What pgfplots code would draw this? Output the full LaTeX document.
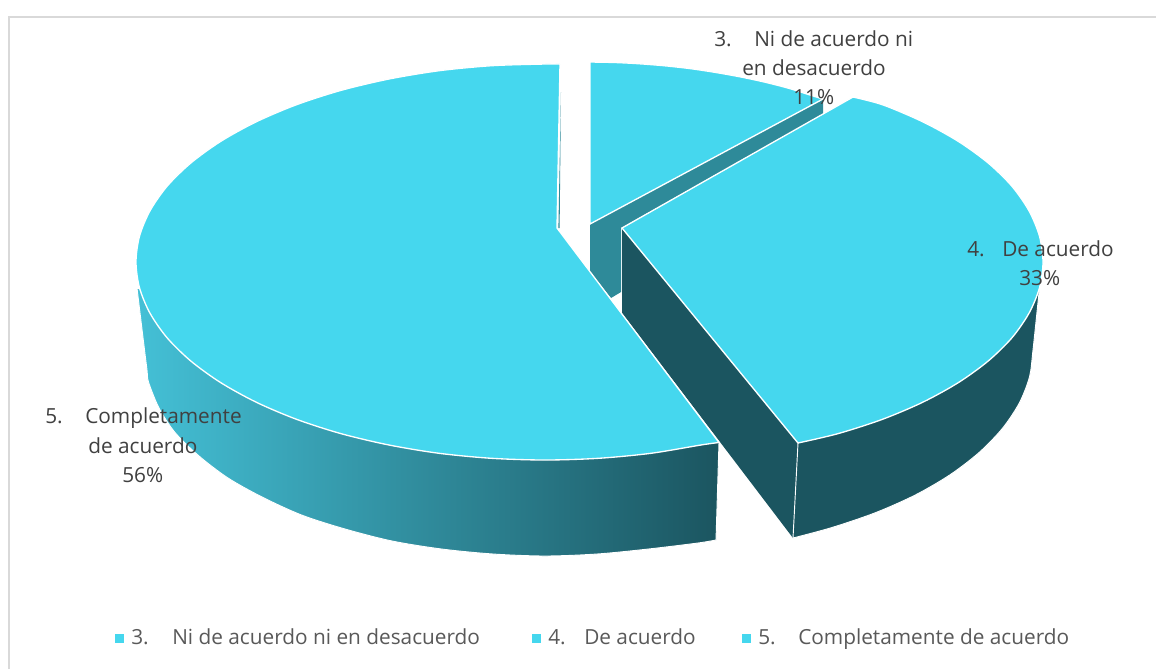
\documentclass[border=0pt]{standalone}
\usepackage{pgfplots}
\pgfplotsset{compat=1.18}
\usepackage{fontspec}
\setmainfont{Open Sans}
\definecolor{topc}{RGB}{69,215,238}
\definecolor{darkc}{RGB}{27,85,96}
\definecolor{midc}{RGB}{46,138,153}
\definecolor{leftc}{RGB}{68,192,214}
\definecolor{lbl}{RGB}{64,64,64}
\definecolor{leg}{RGB}{89,89,89}
\definecolor{frame}{RGB}{217,217,217}
\newcommand\fs{\fontsize{15.6}{18}\selectfont}
\newcommand\lab[3]{\node[anchor=base west,inner sep=0pt,text=lbl] at (axis cs:#1,#2) {\fs #3};}
\newcommand\lgd[3]{\node[anchor=base west,inner sep=0pt,text=leg] at (axis cs:#1,#2) {\fs #3};}
\begin{document}
\begin{tikzpicture}
\begin{axis}[
  scale only axis, width=867pt, height=501.75pt,
  xmin=0, xmax=1156, ymin=0, ymax=669, y dir=reverse,
  hide axis, clip=true]
% page
\addplot[draw=none, fill=white] coordinates {(0,0)(1156,0)(1156,669)(0,669)} --cycle;
% frame
\addplot[draw=frame, line width=1.5pt] coordinates {(9,669)(9,17)(1156,17)};
% band between slice 3 and slice 4
\addplot[draw=none, fill=midc] coordinates {(590,224)(590,272)(611,298)(621,292)(621,228)(823,114)(823,99)} --cycle;
% cut face of slice 4
\addplot[draw=none, fill=darkc] coordinates {(622,228)(622,313)(793,538)(798,443)} --cycle;
% outer side of slice 4 (upper edge hidden under the top face)
\addplot[smooth, draw=white, line width=0.7pt, fill=darkc] coordinates {
 (1039.5,287.8)(1033,350)(1029.5,376.8)(1019.3,403)(1002.4,428.4)(979.1,452.5)(950,474.8)(915.3,495)(875.7,512.6)(832,527.5)(793,538)} -- (axis cs:798,443) -- cycle;
% outer side of slice 5 (upper edge hidden under the top face)
\addplot[smooth, draw=white, line width=0.7pt, left color=leftc, right color=darkc] coordinates {
 (137,288)(143.3,340)(147,370)(148.5,382)(159,408)(175,432.5)(199,456)(228,478)(262,497)(301.5,515)(345,529)(392,541)(441.5,549)(493,554)(545,556)(597,554)(648.5,549)(698,543)(716,540)} -- (axis cs:719,442.5) -- cycle;
% top of slice 3
\addplot[smooth, draw=white, line width=1pt, fill=topc] coordinates {
 (590,62)(615,62.5)(638.4,63.7)(665,65.8)(690.9,68.7)(716,72.5)(741.5,77.1)(766,82.4)(789.5,88.5)(810,95)(823,99)} -- (axis cs:590,224) -- cycle;
% top of slice 4
\addplot[smooth, draw=white, line width=1pt, fill=topc] coordinates {
 (798,443)(838.5,433.5)(883,419.1)(923.2,402)(958.5,382.5)(988.2,361)(1011.9,337.8)(1029,313.2)(1039.5,287.8)(1043,262)(1039.5,236.2)(1029,210.8)(1011.9,186.2)(988.2,163)(958.5,141.5)(923.2,122)(883,104.9)(853,97)} -- (axis cs:622,228) -- cycle;
% top of slice 5
\addplot[smooth, draw=white, line width=1pt, fill=topc] coordinates {
 (719,442.5)(701.5,444.9)(650.9,453.3)(598.4,458.3)(545,460)(491.6,458.3)(439.1,453.3)(388.5,444.9)(340.5,433.5)(296,419.1)(255.8,402)(220.5,382.5)(190.8,361)(167.1,337.8)(150,313.2)(139.5,287.8)(136,262)(139.5,236.2)(150,210.8)(167.1,186.2)(190.8,163)(220.5,141.5)(255.8,122)(296,104.9)(340.5,90.5)(388.5,79.1)(439.1,70.7)(491.6,65.7)(545,64)(560,64)} -- (axis cs:557,228) -- cycle;
% sliver of the inner face of slice 5
\addplot[draw=none, fill=midc] coordinates {(561,92)(559.6,228)(558.4,228)} --cycle;
% legend keys
\addplot[only marks, mark=square*, mark size=3pt, mark options={draw=topc, fill=topc}] coordinates {(119,638)(536,638)(746,638)};
% data labels
\lab{714}{46}{3.}
\lab{754}{46}{Ni de acuerdo ni}
\lab{742}{75}{en desacuerdo}
\lab{793}{104}{11\%}
\lab{967}{256}{4.}
\lab{1002}{256}{De acuerdo}
\lab{1019}{285}{33\%}
\lab{45}{423}{5.}
\lab{85}{423}{Completamente}
\lab{88}{453}{de acuerdo}
\lab{122}{482}{56\%}
% legend text
\lgd{131}{644}{3.}
\lgd{172}{644}{Ni de acuerdo ni en desacuerdo}
\lgd{548}{644}{4.}
\lgd{584}{644}{De acuerdo}
\lgd{758}{644}{5.}
\lgd{798}{644}{Completamente de acuerdo}
\end{axis}
\end{tikzpicture}
\end{document}
